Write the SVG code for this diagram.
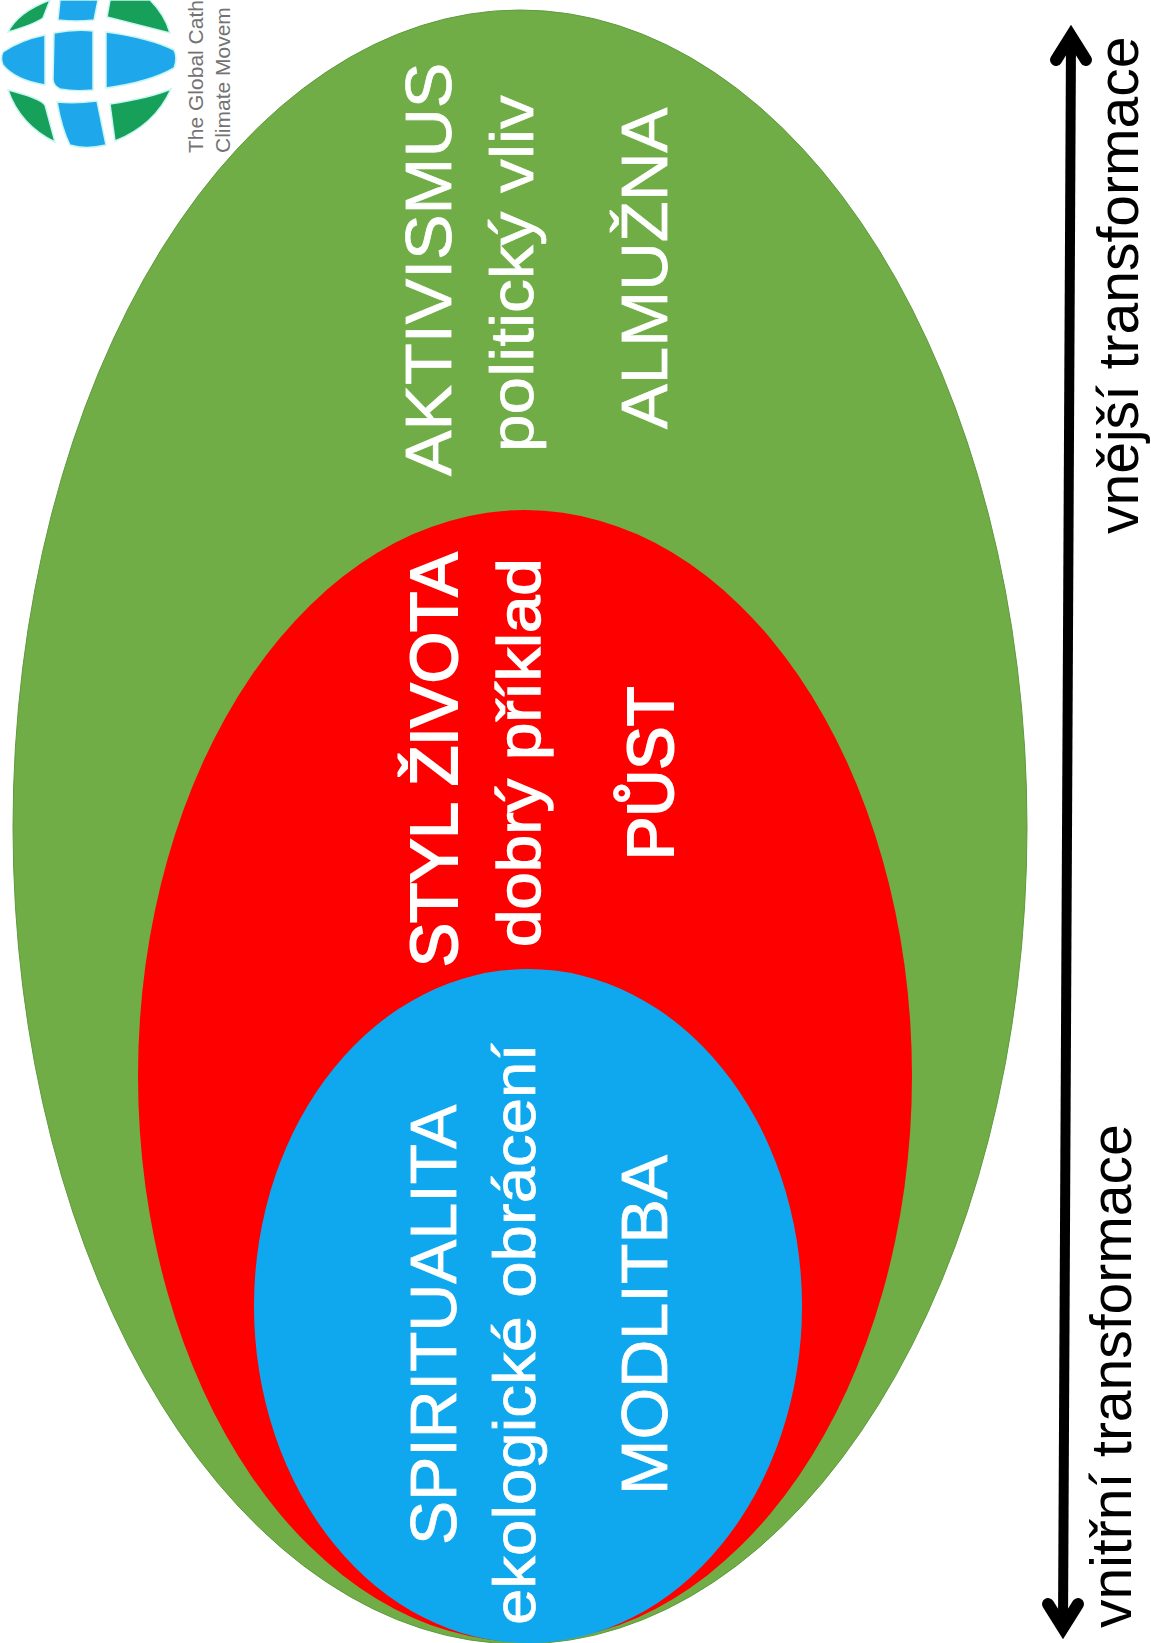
<svg xmlns="http://www.w3.org/2000/svg" width="1151" height="1643" viewBox="0 0 1151 1643">
<style>
text{font-family:"Liberation Sans",Arial,sans-serif}
.w{fill:#fff;stroke:#fff;stroke-width:.7}
.h{fill:#fff;stroke:#fff;stroke-width:2}
.m{fill:#fff;stroke:#fff;stroke-width:1.4}
.b{fill:#000;font-size:57px}
.g{fill:#17a05a;stroke:#c9f5f3;stroke-width:1.5}
.c{fill:#1ea7ea;stroke:#c9f5f3;stroke-width:1.5}
.l{fill:#737373;font-size:21px}
.ah{fill:none;stroke:#000;stroke-width:12;stroke-linecap:round;stroke-linejoin:miter}
</style>
<rect width="1151" height="1643" fill="#fff"/>
<g id="logo">
<path class="g" d="M8 32Q18 12 50 0L43 18Q35 24 8 32Z"/>
<path class="c" d="M60 0H98L94 20Q75 22 58 20Z"/>
<path class="g" d="M110 0H150Q165 15 170 33Q135 24 107 17Z"/>
<path class="c" d="M45 35L45 85Q15 80 3 65Q0 58 3 52Q20 40 45 35Z"/>
<path class="c" d="M54 33Q75 29 93 31V90Q75 92 60 89Q54 86 53 80Z"/>
<path class="c" d="M106 32Q150 38 174 50Q178 58 174 68Q150 82 106 88Z"/>
<path class="g" d="M8 90Q40 98 45 105L55 142Q20 125 8 90Z"/>
<path class="c" d="M57 102Q75 104 97 101L106 145Q85 150 70 145Q62 130 57 102Z"/>
<path class="g" d="M110 104Q150 98 171 89Q155 125 115 141Z"/>
<text class="l" transform="translate(203 153) rotate(-90)">The Global Cath</text>
<text class="l" transform="translate(230 153) rotate(-90)">Climate Movem</text>
</g>
<g id="outer"><ellipse cx="520" cy="827" rx="507" ry="817" fill="#70ad47" stroke="#5f9a3c" stroke-width="1"/>
<text class="w" font-size="65" transform="translate(451 476) rotate(-90) scale(1.05 1)">AKTIVISMUS</text>
<text class="w" font-size="62" transform="translate(533 452) rotate(-90) scale(1.09 1)">politický vliv</text>
<text class="w" font-size="65" transform="translate(667 429) rotate(-90) scale(1.035 1)">ALMUŽNA</text>
</g>
<g id="middle"><ellipse cx="525" cy="1076" rx="387" ry="566" fill="#f00"/>
<text class="h" font-size="66" transform="translate(457 967) rotate(-90)">STYL ŽIVOTA</text>
<text class="m" font-size="62" transform="translate(540 947) rotate(-90) scale(1.085 1)">dobrý příklad</text>
<text class="h" font-size="65" transform="translate(673 860) rotate(-90)">PŮST</text>
</g>
<g id="inner"><ellipse cx="528" cy="1306" rx="274" ry="337" fill="#0fa8ee"/>
<text class="w" font-size="64" transform="translate(456 1545) rotate(-90) scale(1.035 1)">SPIRITUALITA</text>
<text class="w" font-size="60" transform="translate(535 1625) rotate(-90) scale(1.09 1)">ekologické obrácení</text>
<text class="w" font-size="64" transform="translate(667 1495) rotate(-90) scale(1.04 1)">MODLITBA</text>
</g>
<g id="connectors"><line x1="1071" y1="40" x2="1063" y2="1625" stroke="#000" stroke-width="10"/>
<path class="ah" d="M1056 60L1071 36L1086 60"/><path class="ah" d="M1048 1604L1063 1628L1078 1604"/></g>
<g id="labels">
<text class="b" transform="translate(1138 534) rotate(-90)">vnější transformace</text>
<text class="b" transform="translate(1131 1628) rotate(-90)">vnitřní transformace</text>
</g>
</svg>
